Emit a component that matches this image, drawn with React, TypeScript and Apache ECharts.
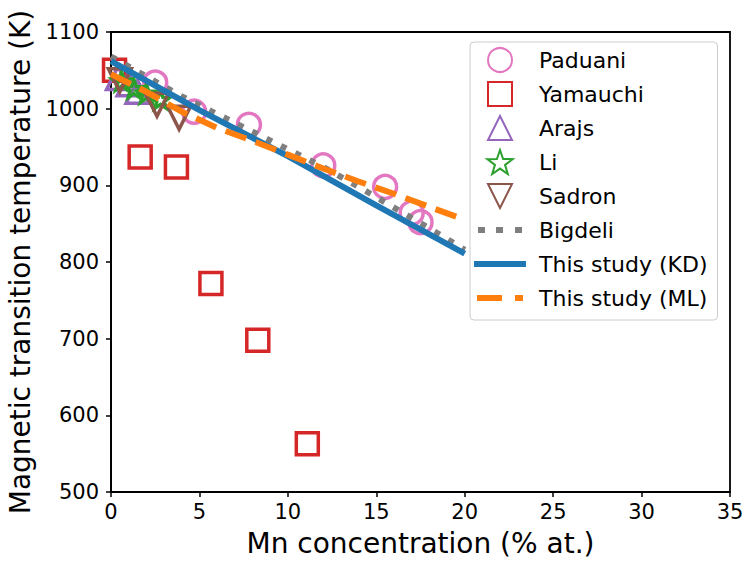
import React, { useEffect, useRef } from "react";
import * as echarts from "echarts";

const paduaniX = [2.5, 4.7, 7.8, 12.0, 15.5, 17.0, 17.5];
const paduaniY = [1034, 996, 979, 926, 898, 864, 852];
const yamauchiX = [0.2, 1.65, 3.7, 5.65, 8.3, 11.1];
const yamauchiY = [1050, 937, 924, 772, 698, 563];
const arajsX = [0.4, 1.0, 1.5];
const arajsY = [1040, 1032, 1022];
const liX = [0.6, 1.3, 2.0, 2.8];
const liY = [1036, 1026, 1020, 1012];
const sadronX = [0.5, 2.6, 3.85];
const sadronY = [1037, 1005, 988];
const bigdeliX = [0, 2, 4, 6, 8, 10, 12, 14, 16, 18, 20];
const bigdeliY = [1068, 1042, 1016, 993, 970, 947, 924, 898, 871, 844, 816];
const kdX = [0, 5, 10, 15, 20];
const kdY = [1062, 998, 938, 874, 811];
const mlX = [0, 2, 4, 6, 8, 10, 12, 14, 16, 18, 20];
const mlY = [1045, 1022, 996, 975, 958, 940, 922, 905, 889, 872, 855];

const xTicks = [0, 35, 5];
const yTicks = [500, 1100, 100];

const pair = (xs: number[], ys: number[]) => xs.map((x, i) => [x, ys[i]]);

const FONT = "DejaVu Sans";
const STAR =
  "path://M0,-10 L2.35,-3.24 L9.51,-3.09 L3.8,1.24 L5.88,8.09 L0,4 L-5.88,8.09 L-3.8,1.24 L-9.51,-3.09 L-2.35,-3.24 Z";
const TRI_DOWN = "path://M0,0 L20,0 L10,20 Z";
const TRI_UP = "path://M10,0 L20,20 L0,20 Z";
const SQUARE = "path://M0,0 L20,0 L20,20 L0,20 Z";

// legend layout (pixels)
const LEG_LEFT = 470;
const LEG_TOP = 42;
const LEG_PAD_TOP = 4;
const LINE_H = 28;
const ICON_H = 24;
const ROW_GAP = 6;
const ICON_X = LEG_LEFT + 4;
const rowCenter = (i: number) => LEG_TOP + LEG_PAD_TOP + LINE_H / 2 + i * (LINE_H + ROW_GAP);

function scatter(name: string, xs: number[], ys: number[], color: string, symbol: string, size: any) {
  return {
    name,
    type: "scatter",
    data: pair(xs, ys),
    symbol,
    symbolSize: size,
    symbolKeepAspect: true,
    itemStyle: { color: "rgba(255,255,255,0)", borderColor: color, borderWidth: 3.5, opacity: 1 },
    z: 2,
  };
}

function line(name: string, xs: number[], ys: number[], color: string, width: number, type: any) {
  return {
    name,
    type: "line",
    data: pair(xs, ys),
    symbol: "none",
    showSymbol: false,
    lineStyle: { color, width, type, cap: "butt" },
    itemStyle: { color },
    z: 3,
  };
}

// handle segments: [start, end] offsets within the 52px handle
const handleRects = (row: number, color: string, segs: number[][]) =>
  segs.map(([a, b]) => ({
    type: "rect",
    z: 100,
    silent: true,
    shape: { x: ICON_X + a, y: rowCenter(row) - 3, width: b - a, height: 6 },
    style: { fill: color },
  }));

export default function App() {
  const ref = useRef<HTMLDivElement>(null);
  useEffect(() => {
    const chart = echarts.init(ref.current!, undefined, { renderer: "svg" });
    chart.setOption({
      animation: false,
      backgroundColor: "#ffffff",
      textStyle: { fontFamily: FONT },
      grid: {
        left: 111,
        right: 24,
        top: 32,
        bottom: 76,
        show: true,
        borderColor: "#000",
        borderWidth: 1.8,
        outerBoundsMode: "none",
      },
      xAxis: {
        type: "value",
        min: xTicks[0],
        max: xTicks[1],
        interval: xTicks[2],
        name: "Mn concentration (% at.)",
        nameLocation: "middle",
        nameGap: 37,
        nameTextStyle: { fontSize: 28, color: "#000", fontFamily: FONT },
        axisLine: { show: true, lineStyle: { color: "#000", width: 1.8 } },
        axisTick: { show: true, length: 5, lineStyle: { color: "#000", width: 1.5 } },
        axisLabel: { fontSize: 21, color: "#000", margin: 9, fontFamily: FONT, formatter: (v: number) => String(v) },
        splitLine: { show: false },
      },
      yAxis: {
        type: "value",
        min: yTicks[0],
        max: yTicks[1],
        interval: yTicks[2],
        name: "Magnetic transition temperature (K)",
        nameLocation: "middle",
        nameGap: 68,
        nameTextStyle: { fontSize: 28, color: "#000", fontFamily: FONT },
        axisLine: { show: true, lineStyle: { color: "#000", width: 1.8 } },
        axisTick: { show: true, length: 5, lineStyle: { color: "#000", width: 1.5 } },
        axisLabel: { fontSize: 21, color: "#000", margin: 12, fontFamily: FONT, formatter: (v: number) => String(v) },
        splitLine: { show: false },
      },
      legend: {
        orient: "vertical",
        left: LEG_LEFT,
        top: LEG_TOP,
        padding: [LEG_PAD_TOP, 10, 8, 4],
        itemGap: ROW_GAP,
        itemWidth: 52,
        itemHeight: ICON_H,
        backgroundColor: "#ffffff",
        borderColor: "#cccccc",
        borderWidth: 1,
        borderRadius: 4,
        textStyle: {
          fontSize: 22,
          lineHeight: LINE_H,
          color: "#000",
          fontFamily: FONT,
          padding: [0, 0, 0, 8],
        },
        data: [
          "Paduani",
          "Yamauchi",
          "Arajs",
          "Li",
          "Sadron",
          { name: "Bigdeli", icon: "none" },
          { name: "This study (KD)", icon: "none" },
          { name: "This study (ML)", icon: "none" },
        ],
      },
      graphic: [
        ...handleRects(5, "#7f7f7f", [[4, 11], [22, 29], [41, 48]]),
        ...handleRects(6, "#1f77b4", [[0, 52]]),
        ...handleRects(7, "#ff7f0e", [[3, 28], [41, 49]]),
      ],
      series: [
        scatter("Paduani", paduaniX, paduaniY, "#e377c2", "circle", 23),
        scatter("Yamauchi", yamauchiX, yamauchiY, "#d62728", SQUARE, 22),
        scatter("Arajs", arajsX, arajsY, "#9467bd", TRI_UP, 23),
        scatter("Li", liX, liY, "#2ca02c", STAR, 19),
        scatter("Sadron", sadronX, sadronY, "#8c564b", TRI_DOWN, 23),
        line("Bigdeli", bigdeliX, bigdeliY, "#7f7f7f", 6, [6, 10]),
        line("This study (KD)", kdX, kdY, "#1f77b4", 6, "solid"),
        line("This study (ML)", mlX, mlY, "#ff7f0e", 6, [22, 10]),
      ],
    });
    return () => chart.dispose();
  }, []);
  return (
    <div
      ref={ref}
      style={{ position: "fixed", left: 0, top: 0, width: 754, height: 568, background: "#fff" }}
    />
  );
}
